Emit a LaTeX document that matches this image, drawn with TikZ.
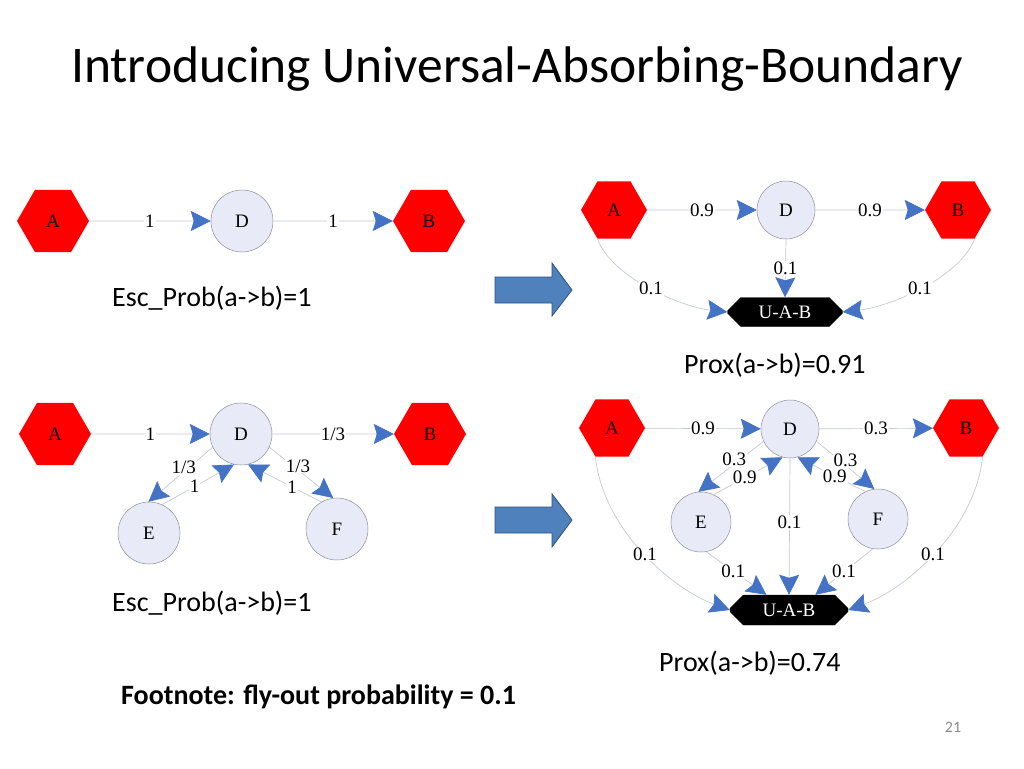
\documentclass[tikz,border=0pt]{standalone}
\usepackage{fontspec}
\setmainfont{Carlito}
\newfontfamily\tms{Liberation Serif}
\usetikzlibrary{shapes.geometric,shapes.misc,arrows.meta}
\definecolor{hexred}{HTML}{FF0000}
\definecolor{circfill}{HTML}{E8EBF7}
\definecolor{circdraw}{HTML}{8E8E9E}
\definecolor{edgegray}{HTML}{C4C9D6}
\definecolor{tipblue}{HTML}{4472C4}
\definecolor{bigfill}{HTML}{4F81BD}
\definecolor{bigdraw}{HTML}{2F4F7F}
\definecolor{pagegray}{HTML}{8C8C8C}
\begin{document}
\begin{tikzpicture}[x=1pt,y=-1pt,
  gfont/.style={font=\tms\fontsize{19}{19}\selectfont},
  hexa/.style={regular polygon, regular polygon sides=6, fill=hexred, draw=none, inner sep=0pt, gfont},
  circ/.style={circle, fill=circfill, draw=circdraw, line width=0.5pt, inner sep=0pt, gfont},
  uab/.style={chamfered rectangle, chamfered rectangle xsep=22pt, chamfered rectangle ysep=7pt, fill=black, draw=black, text=white, minimum width=115pt, minimum height=29pt, inner sep=0pt, gfont},
  edge/.style={draw=edgegray, line width=0.7pt, -{Stealth[length=20pt,width=20pt,inset=3pt,color=tipblue]}},
  lbl/.style={fill=white, inner sep=1pt, gfont},
  bigarrow/.style={fill=bigfill, draw=bigdraw, line width=0.8pt, line join=miter},
  txt/.style={inner sep=0pt, font=\fontsize{28}{32}\selectfont}]
\useasboundingbox (0,0) rectangle (1024,768);
\fill[white] (0,0) rectangle (1024,768);

% title
\node[inner sep=0pt, anchor=base, font=\fontsize{51.5}{56}\selectfont] (title) at (517,82) {Introducing Universal-Absorbing-Boundary};

% ---------- panel 1 ----------
\node[hexa, minimum size=72pt] (A1) at (53,221) {A};
\node[circ, minimum size=62pt] (D1) at (242,221) {D};
\node[hexa, minimum size=72pt] (B1) at (429,221) {B};
\draw[edge] (A1) -- node[lbl] {1} (D1);
\draw[edge] (D1) -- node[lbl] {1} (B1);
\node[txt, anchor=west] (esc1) at (112,298) {Esc\_Prob(a->b)=1};

% ---------- panel 2 ----------
\node[hexa, minimum size=66pt] (A2) at (614,210) {A};
\node[circ, minimum size=58pt] (D2) at (786,210) {D};
\node[hexa, minimum size=66pt] (B2) at (958,210) {B};
\node[uab] (U2) at (785,312) {U-A-B};
\draw[edge] (A2) -- node[lbl] {0.9} (D2);
\draw[edge] (D2) -- node[lbl] {0.9} (B2);
\draw[edge] (D2.south) -- node[lbl, pos=0.5] {0.1} (U2.north);
\draw[edge] (A2.240) .. controls +(15,40) and +(-45,-5) .. node[lbl, pos=0.5] {0.1} (U2.west);
\draw[edge] (B2.300) .. controls +(-15,40) and +(45,-5) .. node[lbl, pos=0.5] {0.1} (U2.east);
\node[txt, anchor=west] (prox1) at (684,365) {Prox(a->b)=0.91};

% big arrows
\draw[bigarrow] (495,277) -- (552,277) -- (552,263) -- (572,290) -- (552,316) -- (552,303) -- (495,303) -- cycle;
\draw[bigarrow] (495,507) -- (552,507) -- (552,494) -- (572,520) -- (552,547) -- (552,533) -- (495,533) -- cycle;

% ---------- panel 3 ----------
\node[hexa, minimum size=72pt] (A3) at (55,434) {A};
\node[circ, minimum size=62pt] (D3) at (241,434) {D};
\node[hexa, minimum size=72pt] (B3) at (430,434) {B};
\node[circ, minimum size=62pt] (E3) at (149,533) {E};
\node[circ, minimum size=62pt] (F3) at (337,529) {F};
\draw[edge] (A3) -- node[lbl] {1} (D3);
\draw[edge] (D3) -- node[lbl] {1/3} (B3);
\draw[edge] (D3.205) -- node[lbl, pos=0.45, yshift=4pt] {1/3} (E3.91);
\draw[edge] (E3.65) -- node[lbl, pos=0.45] {1} (D3.257);
\draw[edge] (D3.335) -- node[lbl, pos=0.45, yshift=4pt] {1/3} (F3.97);
\draw[edge] (F3.120) -- node[lbl, pos=0.4] {1} (D3.283);
\node[txt, anchor=west] (esc2) at (112,603) {Esc\_Prob(a->b)=1};

% ---------- panel 4 ----------
\node[hexa, minimum size=66pt] (A4) at (612,428) {A};
\node[circ, minimum size=58pt] (D4) at (790,429) {D};
\node[hexa, minimum size=66pt] (B4) at (966,428) {B};
\node[circ, minimum size=60pt] (E4) at (701,522) {E};
\node[circ, minimum size=60pt] (F4) at (878,519) {F};
\node[uab, minimum width=118pt, minimum height=30pt] (U4) at (789,610) {U-A-B};
\draw[edge] (A4) -- node[lbl] {0.9} (D4);
\draw[edge] (D4) -- node[lbl] {0.3} (B4);
\draw[edge] (D4.205) -- node[lbl, pos=0.45, yshift=5pt] {0.3} (E4.95);
\draw[edge] (E4.65) -- node[lbl, pos=0.45] {0.9} (D4.255);
\draw[edge] (D4.335) -- node[lbl, pos=0.5, yshift=5pt] {0.3} (F4.97);
\draw[edge] (F4.115) -- node[lbl, pos=0.45] {0.9} (D4.285);
\draw[edge] (D4.south) -- node[lbl, pos=0.47] {0.1} (U4.north);
\draw[edge] (E4.280) -- node[lbl, pos=0.45] {0.1} (U4.146);
\draw[edge] (F4.260) -- node[lbl, pos=0.5] {0.1} (U4.30);
\draw[edge] (A4.240) .. controls +(8,75) and +(-55,-20) .. node[lbl, pos=0.5] {0.1} (U4.west);
\draw[edge] (B4.300) .. controls +(-8,75) and +(55,-20) .. node[lbl, pos=0.5] {0.1} (U4.east);
\node[txt, anchor=west] (prox2) at (659,663) {Prox(a->b)=0.74};

% footnote and page number
\node[txt, anchor=west, font=\bfseries\fontsize{28}{32}\selectfont] (foot) at (121,697) {Footnote: fly-out probability = 0.1};
\node[inner sep=0pt, text=pagegray, font=\fontsize{16}{18}\selectfont] (page) at (953,727) {21};
\end{tikzpicture}
\end{document}
